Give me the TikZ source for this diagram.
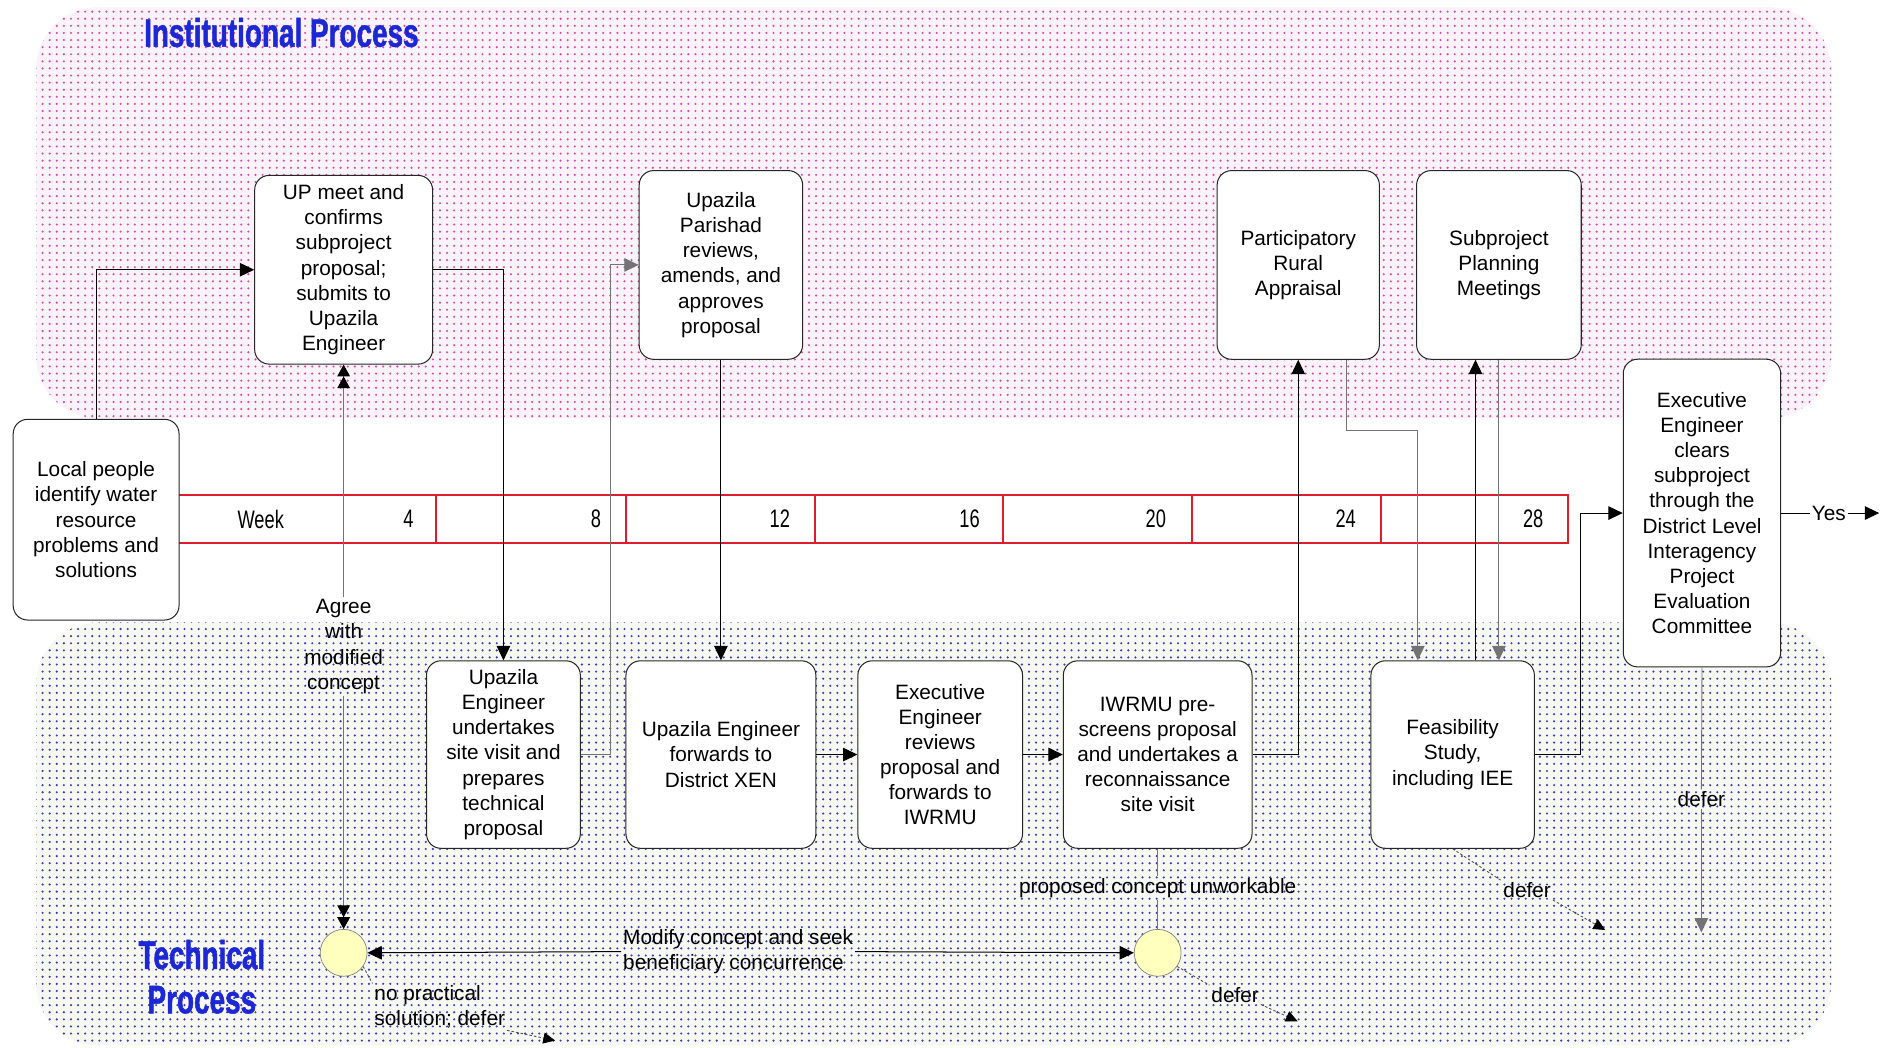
\documentclass[tikz,border=0pt]{standalone}
\usepackage{fontspec}
\setmainfont{Liberation Sans}
\newfontfamily\headfont[FakeStretch=0.72]{Liberation Sans}
\newfontfamily\titlefont[FakeStretch=0.70,FakeBold=1.2]{Liberation Sans Bold}
\usetikzlibrary{arrows.meta,patterns,calc}

\definecolor{pinkbase}{RGB}{252,242,249}
\definecolor{pinkdot}{RGB}{206,80,168}
\definecolor{bluebase}{RGB}{247,247,244}
\definecolor{bluedot}{RGB}{60,60,170}
\definecolor{barred}{RGB}{222,28,44}
\definecolor{headblue}{RGB}{28,40,212}
\definecolor{knotfill}{RGB}{255,255,190}

\pgfdeclarepatternformonly{finedots}{\pgfqpoint{-1pt}{-1pt}}{\pgfqpoint{1pt}{1pt}}{\pgfqpoint{4.2pt}{4.2pt}}{%
  \pgfpathcircle{\pgfqpoint{0pt}{0pt}}{0.7pt}\pgfusepath{fill}}

\begin{document}
\begin{tikzpicture}[x=0.025cm,y=-0.025cm,
    box/.style={draw=black!85,line width=0.6pt,fill=white,rounded corners=0.3cm,
      align=center,font=\fontsize{12.3}{14.9}\selectfont,inner sep=2pt},
    lbl/.style={align=center,font=\fontsize{12.3}{14.9}\selectfont,inner sep=1pt},
    flow/.style={line width=0.6pt,-{Triangle[length=8.5pt,width=8pt]}},
    gflow/.style={draw=black!55,line width=0.5pt},
    dbl/.style={draw=black!55,line width=0.5pt,
      -{Triangle[length=7pt,width=7.5pt,color=black]Triangle[length=7pt,width=7.5pt,color=black]}},
    dline/.style={draw=black!70,line width=0.5pt,dash pattern=on 1.5pt off 1.2pt},
    dflow/.style={dline,-{Triangle[length=7pt,width=6.5pt,color=black]}},
    knot/.style={circle,draw=black!50,fill=knotfill,minimum size=0.975cm,inner sep=0pt},
    head/.style={font=\titlefont\fontsize{23.6}{26.3}\selectfont,text=headblue,align=center},
    wk/.style={font=\headfont\fontsize{15}{18}\selectfont}]

  \useasboundingbox (0,0) rectangle (1568,872);

  % the two process bands
  \fill[pinkbase,rounded corners=1.3cm] (30,6) rectangle (1524,348);
  \fill[pattern=finedots,pattern color=pinkdot,rounded corners=1.3cm] (30,6) rectangle (1524,348);
  \fill[bluebase,rounded corners=1.3cm] (30,518) rectangle (1524,870);
  \fill[pattern=finedots,pattern color=bluedot,rounded corners=1.3cm] (30,518) rectangle (1524,870);

  \node[head,anchor=west] (insthead) at (115,27) {Institutional Process};
  \node[head] (techhead) at (168,813) {Technical\\Process};

  % time scale
  \draw[barred,line width=1.2pt] (148,412) rectangle (1305,452);
  \foreach \x in {363,521,678,835,992,1149}
    \draw[barred,line width=1.2pt] (\x,412) -- (\x,452);
  \node[wk] (wkname) at (217,432) {Week};
  \foreach \n/\x in {4/340,8/496,12/649,16/807,20/962,24/1120,28/1276}
    \node[wk] (wk\n) at (\x,432) {\n};

  % steps
  \node[box,minimum width=3.45cm,minimum height=4.175cm] (local) at (80,432.5)
    {Local people\\identify water\\resource\\problems and\\solutions};
  \node[box,minimum width=3.7cm,minimum height=3.925cm] (upmeet) at (286,224.5)
    {UP meet and\\confirms\\subproject\\proposal;\\submits to\\Upazila\\Engineer};
  \node[box,minimum width=3.4cm,minimum height=3.925cm] (uppar) at (600,220.5)
    {Upazila\\Parishad\\reviews,\\amends, and\\approves\\proposal};
  \node[box,minimum width=3.375cm,minimum height=3.925cm] (pra) at (1080.5,220.5)
    {Participatory\\Rural\\Appraisal};
  \node[box,minimum width=3.425cm,minimum height=3.925cm] (spm) at (1247.5,220.5)
    {Subproject\\Planning\\Meetings};
  \node[box,minimum width=3.275cm,minimum height=6.4cm] (exec) at (1416.5,427)
    {Executive\\Engineer\\clears\\subproject\\through the\\District Level\\Interagency\\Project\\Evaluation\\Committee};
  \node[box,minimum width=3.2cm,minimum height=3.9cm] (ueng) at (419,628)
    {Upazila\\Engineer\\undertakes\\site visit and\\prepares\\technical\\proposal};
  \node[box,minimum width=3.95cm,minimum height=3.9cm] (fwd) at (600,628)
    {Upazila Engineer\\forwards to\\District XEN};
  \node[box,minimum width=3.425cm,minimum height=3.9cm] (xenrev) at (782.5,628)
    {Executive\\Engineer\\reviews\\proposal and\\forwards to\\IWRMU};
  \node[box,minimum width=3.925cm,minimum height=3.9cm] (iwrmu) at (963.5,628)
    {IWRMU pre-\\screens proposal\\and undertakes a\\reconnaissance\\site visit};
  \node[box,minimum width=3.4cm,minimum height=3.9cm] (feas) at (1209,628)
    {Feasibility\\Study,\\including IEE};

  \node[knot] (c1) at (286,793) {};
  \node[knot] (c2) at (963.5,793) {};

  % labels
  \node[lbl] (agree) at (286,538) {Agree\\with\\modified\\concept};
  \node[lbl,align=left,anchor=west] (modify) at (517,792) {Modify concept and seek\\beneficiary concurrence};
  \node[lbl] (unwork) at (963.5,739) {proposed concept unworkable};
  \node[lbl] (yes) at (1522,427) {Yes};
  \node[lbl] (defe) at (1416,665) {defer};
  \node[lbl] (deff) at (1271,741) {defer};
  \node[lbl] (defc) at (1028,828) {defer};
  \node[lbl,align=left] (nops) at (366,838) {no practical\\solution; defer};
  \coordinate (yesend) at (1564,427);
  \coordinate (execend) at (1416,776);
  \coordinate (feasend) at (1336,774);
  \coordinate (c1end) at (462,866);
  \coordinate (c2end) at (1080,850);

  % flows
  \draw[flow] (local.north) |- (upmeet.west);
  \draw[flow] (upmeet.east) -| (ueng.north);
  \draw[gflow,flow,draw=black!55] (ueng.east) -- ++(25,0) |- (uppar.west);
  \draw[flow] (uppar.south) -- (fwd.north);
  \draw[flow] (fwd.east) -- (xenrev.west);
  \draw[flow] (xenrev.east) -- (iwrmu.west);
  \draw[flow] (iwrmu.east) -| (pra.south);
  \draw[flow,draw=black!55] ($(pra.south)+(40,0)$) -- ++(0,59) -| ($(feas.north)+(-29,0)$);
  \draw[flow] ($(feas.north)+(19,0)$) -- ($(spm.south)+(-19.5,0)$);
  \draw[flow,draw=black!55] (spm.south) -- (spm.south |- feas.north);
  \draw[flow] (feas.east) -- ++(38,0) |- (exec.west);
  \draw[line width=0.6pt] (exec.east) -- (yes.west);
  \draw[flow] (yes.east) -- (yesend);
  \draw[gflow] (exec.south) -- (defe.north);
  \draw[gflow,flow,draw=black!55] (defe.south) -- (execend);
  \draw[dline] (feas.south) -- (deff.north west);
  \draw[dflow] (deff.south east) -- (feasend);
  \draw[gflow] (iwrmu.south) -- (unwork.north);
  \draw[gflow] (unwork.south) -- (c2.north);
  \draw[dbl] (agree.north) -- (upmeet.south);
  \draw[dbl] (agree.south) -- (c1.north);
  \draw[flow] (modify.west) -- (c1.east);
  \draw[flow] (modify.east) -- (c2.west);
  \draw[dline] (c2.-35) -- (defc.north west);
  \draw[dflow] (defc.south east) -- (c2end);
  \draw[dline] (c1.-35) -- (nops.north west);
  \draw[dflow] (nops.south east) -- (c1end);
\end{tikzpicture}
\end{document}
